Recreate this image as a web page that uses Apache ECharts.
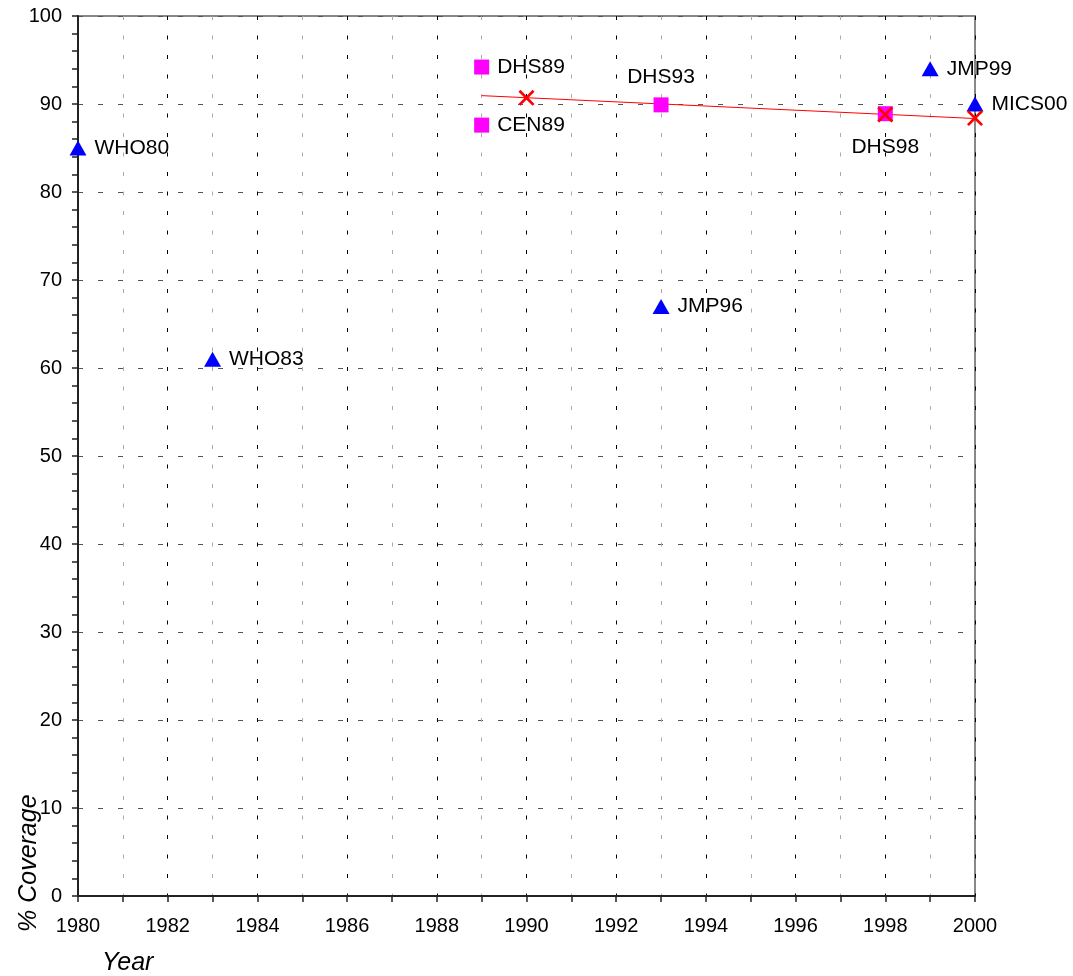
<!DOCTYPE html>
<html><head><meta charset="utf-8">
<script src="https://cdn.jsdelivr.net/npm/echarts@6/dist/echarts.min.js"></script>
<style>html,body{margin:0;padding:0;background:#fff}#c{width:1073px;height:976px}</style>
</head><body><div id="c"></div>
<script>
// Data
const jmpNames = ['WHO80','WHO83','JMP96','JMP99','MICS00'];
const jmpYears = [1980, 1983, 1993, 1999, 2000];
const jmpValues = [85, 61, 67, 94, 90];
const surveyNames = ['DHS89','CEN89','DHS93','DHS98'];
const surveyYears = [1989, 1989, 1993, 1998];
const surveyValues = [94.2, 87.6, 89.9, 88.9];
const estYears = [1990, 1998, 2000];
const estValues = [90.7, 88.8, 88.4];
const trendYears = [1989, 2000];
const trendValues = [90.95, 88.35];
const xTicks = [1980,1982,1984,1986,1988,1990,1992,1994,1996,1998,2000];
const yTicks = [0,10,20,30,40,50,60,70,80,90,100];

const labelPos = {
  DHS93: {position:'top', distance: 10},
  DHS98: {position:'bottom', distance: 16}
};
const font = 'Liberation Sans, Arial, sans-serif';

const chart = echarts.init(document.getElementById('c'));
const xPath = 'path://M0,1.2L1.2,0L5,3.8L8.8,0L10,1.2L6.2,5L10,8.8L8.8,10L5,6.2L1.2,10L0,8.8L3.8,5Z';
const lbl = {show: true, position: 'right', distance: 8, formatter: p => p.name, color: '#000', fontSize: 21, fontFamily: font};

chart.setOption({
  animation: false,
  backgroundColor: '#fff',
  grid: {left: 78, right: 98, top: 16, bottom: 80, show: true, borderColor: '#888', borderWidth: 2},
  xAxis: {
    type: 'value', min: xTicks[0], max: xTicks[xTicks.length-1], interval: 2,
    axisLine: {show: true, onZero: false, lineStyle: {color: '#222', width: 2}},
    axisTick: {show: true, length: 6, lineStyle: {color: '#222', width: 1.5}},
    minorTick: {show: true, splitNumber: 2, length: 6, lineStyle: {color: '#222', width: 1.5}},
    splitLine: {show: true, lineStyle: {color: '#000', type: [4, 15.5], width: 1}},
    minorSplitLine: {show: true, lineStyle: {color: '#aaa', type: [4, 15.5], width: 1}},
    axisLabel: {color: '#000', fontSize: 20, fontFamily: font, margin: 20, formatter: v => String(v)}
  },
  yAxis: {
    type: 'value', min: yTicks[0], max: yTicks[yTicks.length-1], interval: 10,
    axisLine: {show: true, onZero: false, lineStyle: {color: '#222', width: 2}},
    axisTick: {show: true, length: 6, lineStyle: {color: '#222', width: 1.5}},
    minorTick: {show: true, splitNumber: 5, length: 6, lineStyle: {color: '#222', width: 1.5}},
    splitLine: {show: true, lineStyle: {color: '#555', type: [5, 15], width: 1}},
    axisLabel: {color: '#000', fontSize: 20, fontFamily: font, margin: 16}
  },
  graphic: [
    {type: 'text', left: 102, top: 951, style: {text: 'Year', font: 'italic 25px ' + font, fill: '#000'}},
    {type: 'text', x: 17, y: 932, rotation: Math.PI/2, style: {text: '% Coverage', font: 'italic 25px ' + font, fill: '#000', align: 'left', verticalAlign: 'top'}}
  ],
  series: [
    {type: 'line', data: trendYears.map((y,i)=>[y, trendValues[i]]), symbol: 'none',
     lineStyle: {color: '#ff0000', width: 1}, z: 3, silent: true},
    {type: 'scatter', clip: false, symbol: 'triangle', symbolSize: [17, 15],
     itemStyle: {color: '#0000ff', opacity: 1}, z: 4,
     data: jmpYears.map((y,i)=>({value:[y, jmpValues[i]], name: jmpNames[i]})),
     label: lbl},
    {type: 'scatter', clip: false, symbol: 'rect', symbolSize: 15,
     itemStyle: {color: '#ff00ff', opacity: 1}, z: 4,
     data: surveyYears.map((y,i)=>{
       const n = surveyNames[i];
       const d = {value:[y, surveyValues[i]], name: n};
       if (labelPos[n]) d.label = labelPos[n];
       return d;
     }),
     label: lbl},
    {type: 'scatter', clip: false, symbol: xPath, symbolSize: 16,
     itemStyle: {color: '#ff0000', opacity: 1}, z: 5,
     data: estYears.map((y,i)=>[y, estValues[i]])}
  ]
});
</script></body></html>
